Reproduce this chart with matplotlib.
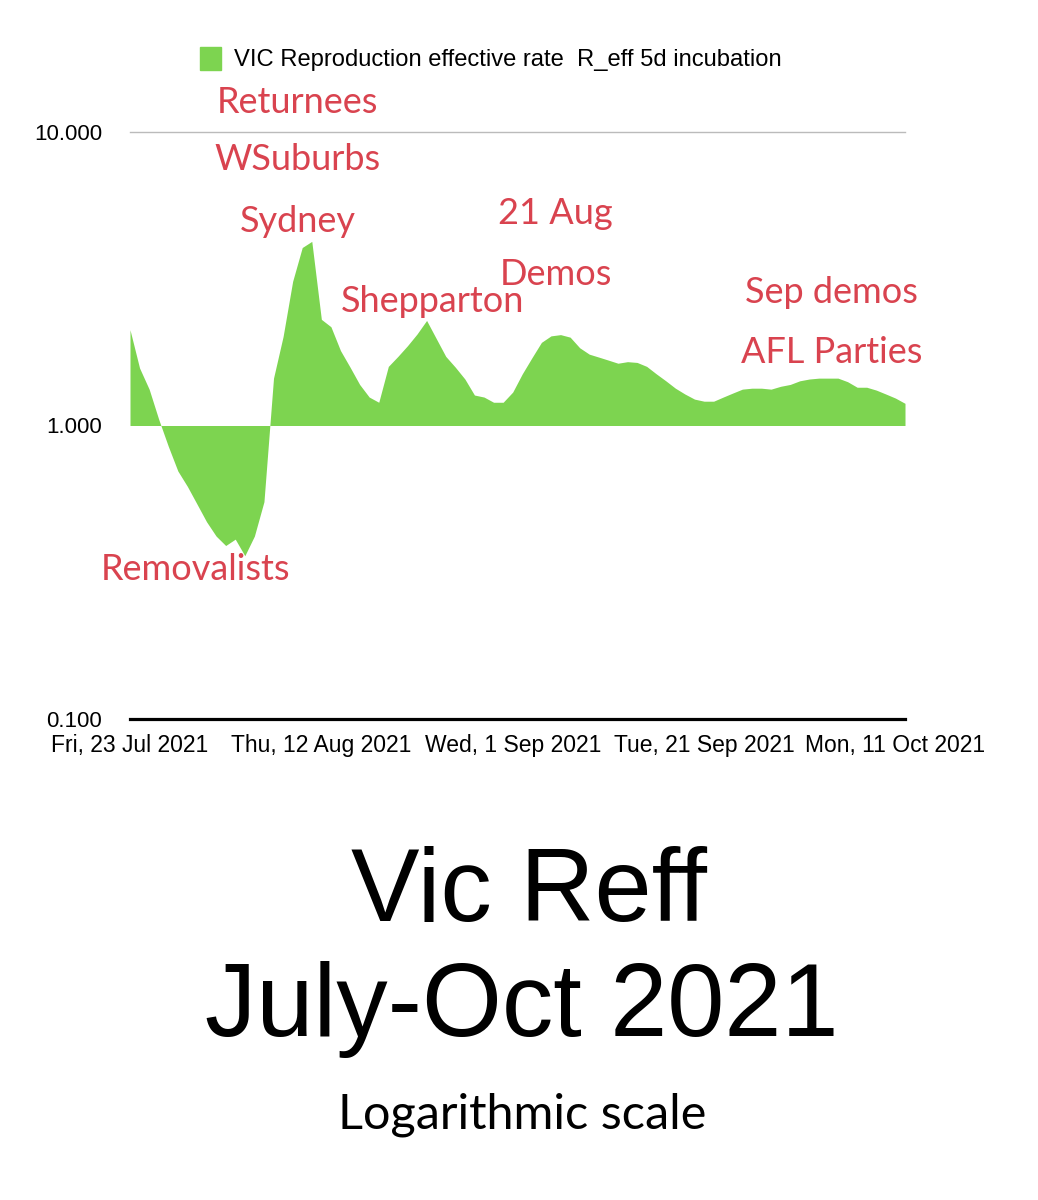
#!/usr/bin/env python3

import numpy as np
import pandas as pd
import matplotlib
matplotlib.use('Agg')
import matplotlib.pyplot as plt
from matplotlib.patches import Patch

# daily R_eff, starting Fri 23 Jul 2021
reff = [2.12, 1.57, 1.33, 1.05, 0.85, 0.70, 0.62, 0.54, 0.47, 0.42,
        0.39, 0.41, 0.36, 0.42, 0.55, 1.45, 2.01, 3.10, 4.04, 4.24,
        2.30, 2.17, 1.80, 1.58, 1.38, 1.25, 1.20, 1.59, 1.72, 1.87,
        2.05, 2.28, 1.98, 1.72, 1.58, 1.44, 1.27, 1.25, 1.20, 1.20,
        1.30, 1.50, 1.70, 1.92, 2.02, 2.04, 2.00, 1.84, 1.75, 1.71,
        1.67, 1.63, 1.65, 1.64, 1.59, 1.50, 1.42, 1.34, 1.28, 1.23,
        1.21, 1.21, 1.25, 1.29, 1.33, 1.34, 1.34, 1.33, 1.36, 1.38,
        1.42, 1.44, 1.45, 1.45, 1.45, 1.41, 1.35, 1.35, 1.32, 1.28,
        1.24, 1.19]
start_date = '2021-07-23'

tick_dates = ['2021-07-23', '2021-08-12', '2021-09-01', '2021-09-21', '2021-10-11']
tick_labels = ['Fri, 23 Jul 2021', 'Thu, 12 Aug 2021', 'Wed, 1 Sep 2021',
               'Tue, 21 Sep 2021', 'Mon, 11 Oct 2021']
y_ticks = [0.1, 1.0, 10.0]

# annotation text and the (date, value) each sits at
notes = ['Returnees', 'WSuburbs', 'Sydney', 'Shepparton', '21 Aug', 'Demos',
         'Sep demos', 'AFL Parties', 'Removalists']
note_dates = ['2021-08-09 12:00', '2021-08-09 12:00', '2021-08-09 14:00',
              '2021-08-23 14:00', '2021-09-05 12:00', '2021-09-05 12:00',
              '2021-10-04 08:00', '2021-10-04 08:00', '2021-07-29 20:00']
note_vals = [12.6, 8.06, 4.96, 2.64, 5.28, 3.27, 2.84, 1.77, 0.323]

green = '#7dd450'
red = '#d9434f'
hand = ['Lato', 'DejaVu Sans']

dates = pd.date_range(start_date, periods=len(reff), freq='D')

fig = plt.figure(figsize=(10.38, 12), dpi=100)
ax = fig.add_axes([130 / 1038, 1 - 719 / 1200, 775 / 1038, 587 / 1200])

ax.fill_between(dates, 1.0, reff, color=green, linewidth=0)
ax.set_yscale('log')
ax.set_ylim(0.1, 10)
ax.set_xlim(dates[0], dates[-1])
ax.axhline(10, color='#bbbbbb', linewidth=1, clip_on=False)

ax.set_yticks(y_ticks)
ax.set_yticklabels(['%.3f' % v for v in y_ticks])
ax.yaxis.set_minor_locator(matplotlib.ticker.NullLocator())
ax.set_xticks(pd.to_datetime(tick_dates))
ax.set_xticklabels(tick_labels)
ax.tick_params(axis='y', length=0, pad=20, labelsize=16)
ax.tick_params(axis='x', length=0, pad=11, labelsize=16.5)
for lbl in ax.get_xticklabels() + ax.get_yticklabels():
    lbl.set_family('Liberation Sans')

for side in ['top', 'right', 'left']:
    ax.spines[side].set_visible(False)
ax.spines['bottom'].set_linewidth(2.3)
ax.spines['bottom'].set_color('black')

for txt, d, v in zip(notes, note_dates, note_vals):
    ax.text(pd.Timestamp(d), v, txt, color=red, fontsize=26, family=hand,
            ha='center', va='center', clip_on=False)

fig.legend(handles=[Patch(color=green)],
           labels=['VIC Reproduction effective rate  R_eff 5d incubation'],
           loc='center left', bbox_to_anchor=(179 / 1038, 1 - 59 / 1200),
           frameon=False, handlelength=0.85, handleheight=1.1,
           handletextpad=0.55, prop={'family': 'Liberation Sans', 'size': 17.1})

fig.text(0.51, 1 - 895 / 1200, 'Vic Reff', ha='center', va='center',
         fontsize=74, family='Liberation Sans')
fig.text(0.503, 1 - 1010 / 1200, 'July-Oct 2021', ha='center', va='center',
         fontsize=74, family='Liberation Sans')
fig.text(0.503, 1 - 1115 / 1200, 'Logarithmic scale', ha='center', va='center',
         fontsize=35, family=hand, color='black')

fig.savefig('out.png', dpi=100, facecolor='white')
